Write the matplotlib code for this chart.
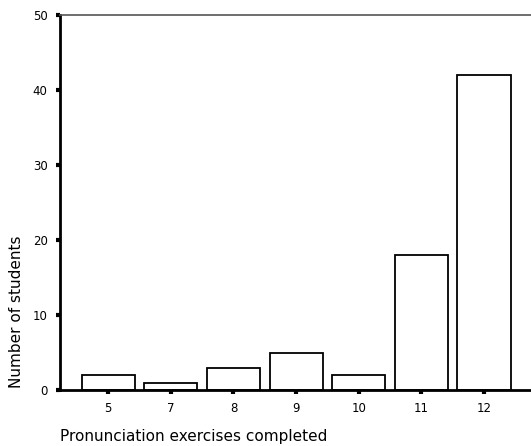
import matplotlib
matplotlib.use('Agg')
import matplotlib.pyplot as plt
import numpy as np

categories = ['5', '7', '8', '9', '10', '11', '12']
students = [2, 1, 3, 5, 2, 18, 42]
y_ticks = [0, 10, 20, 30, 40, 50]

fig = plt.figure(figsize=(5.31, 4.46), dpi=100)
ax = fig.add_axes([60 / 531, 1 - 390 / 446, 1 - 60 / 531, 375 / 446])

x = np.arange(len(categories))
ax.bar(x, students, width=0.85, color='white', edgecolor='black', linewidth=1.3)

ax.set_xlim(-0.77, len(categories) - 0.25)
ax.set_ylim(0, 50)
ax.set_xticks(x)
ax.set_xticklabels(categories, fontsize=8.5)
ax.set_yticks(y_ticks)
ax.set_yticklabels([str(v) for v in y_ticks], fontsize=8.5)

ax.spines['right'].set_visible(False)
ax.spines['top'].set_color('#555555')
ax.spines['top'].set_linewidth(1.2)
ax.spines['left'].set_linewidth(2)
ax.spines['bottom'].set_linewidth(2)
ax.tick_params(axis='both', direction='out', length=3, width=3, pad=6)

fig.text(60 / 531, 1 - 437 / 446, 'Pronunciation exercises completed',
         fontsize=11, ha='left', va='center')
fig.text(17 / 531, 1 - 312 / 446, 'Number of students', fontsize=11,
         rotation=90, ha='center', va='center')

fig.savefig('out.png', dpi=100)
